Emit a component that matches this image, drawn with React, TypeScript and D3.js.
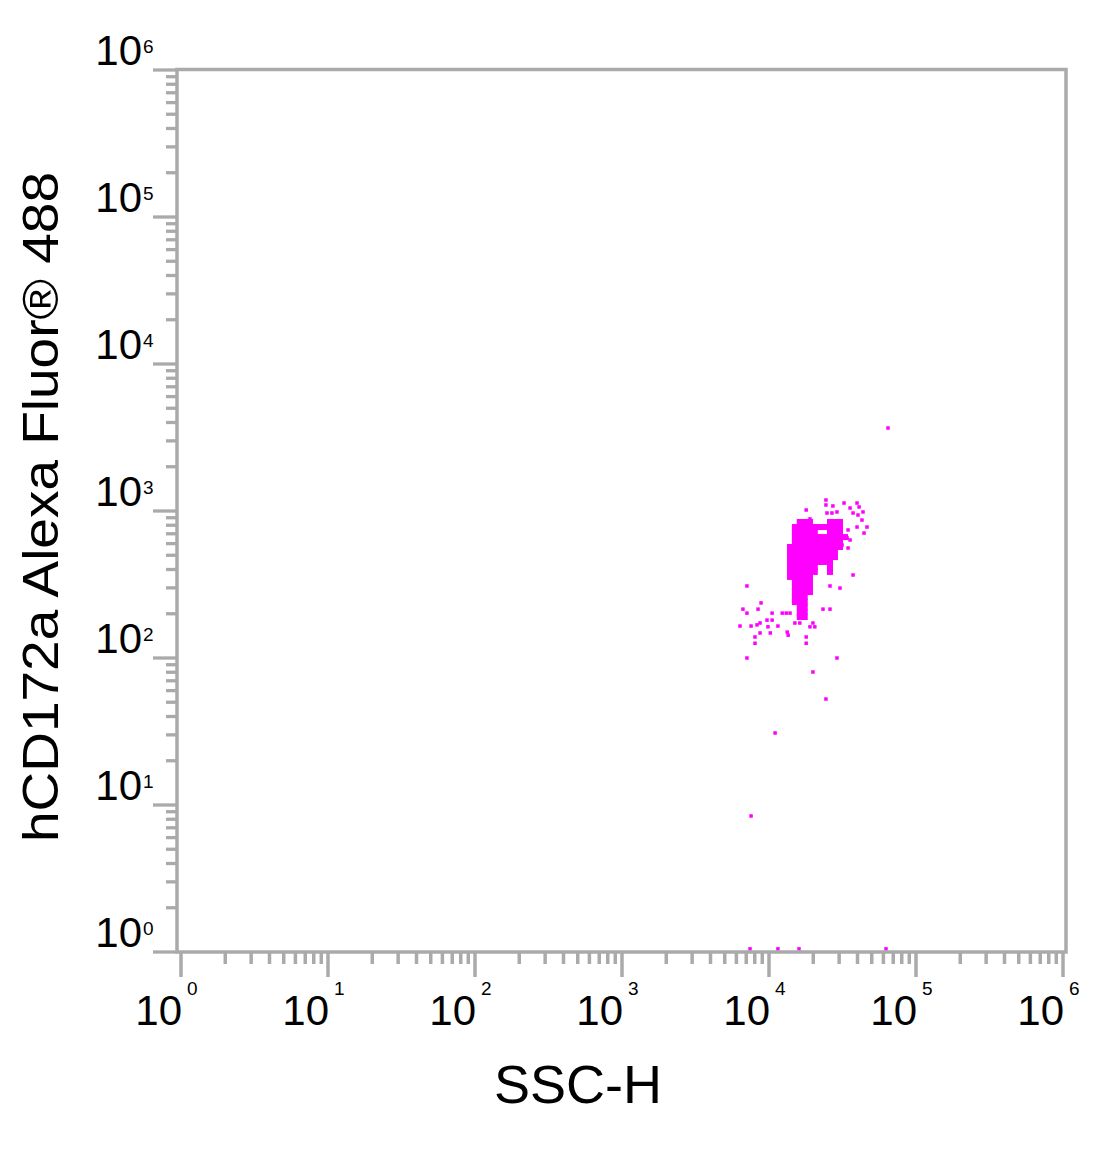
import React from "react";
import * as d3 from "d3";

// ---- data ----
const decadeExponents = [0, 1, 2, 3, 4, 5, 6];
const minorMultipliers = [2, 3, 4, 5, 6, 7, 8, 9];
const xAxisTitle = "SSC-H";
const yAxisTitle = "hCD172a Alexa Fluor® 488";

// dense core of the population: [FL value, SSC values in that row]
const coreRows: [number, number[]][] = [
  [842, [1.62e4, 1.75e4, 1.9e4, 2.6e4, 2.81e4, 3.04e4]],
  [778, [1.5e4, 1.62e4, 1.75e4, 1.9e4, 2.05e4, 2.22e4, 2.4e4, 2.6e4, 2.81e4, 3.04e4]],
  [720, [1.5e4, 1.62e4, 1.75e4, 1.9e4, 2.05e4, 2.6e4, 2.81e4, 3.04e4]],
  [665, [1.5e4, 1.62e4, 1.75e4, 1.9e4, 2.05e4, 2.22e4, 2.4e4, 2.6e4, 2.81e4, 3.04e4, 3.29e4]],
  [615, [1.5e4, 1.62e4, 1.75e4, 1.9e4, 2.05e4, 2.22e4, 2.4e4, 2.6e4, 2.81e4, 3.04e4]],
  [569, [1.39e4, 1.5e4, 1.62e4, 1.75e4, 1.9e4, 2.05e4, 2.22e4, 2.4e4, 2.6e4, 2.81e4, 3.04e4]],
  [526, [1.39e4, 1.5e4, 1.62e4, 1.75e4, 1.9e4, 2.05e4, 2.22e4, 2.4e4, 2.6e4, 2.81e4]],
  [486, [1.39e4, 1.5e4, 1.62e4, 1.75e4, 1.9e4, 2.05e4, 2.22e4, 2.4e4, 2.6e4, 2.81e4]],
  [450, [1.39e4, 1.5e4, 1.62e4, 1.75e4, 1.9e4, 2.05e4, 2.22e4, 2.4e4, 2.6e4]],
  [416, [1.39e4, 1.5e4, 1.62e4, 1.75e4, 1.9e4, 2.05e4, 2.6e4]],
  [385, [1.39e4, 1.5e4, 1.62e4, 1.75e4, 1.9e4, 2.05e4, 2.6e4]],
  [356, [1.39e4, 1.5e4, 1.62e4, 1.75e4, 1.9e4]],
  [329, [1.5e4, 1.62e4, 1.75e4, 1.9e4]],
  [304, [1.5e4, 1.62e4, 1.75e4, 1.9e4]],
  [281, [1.5e4, 1.62e4, 1.75e4, 1.9e4]],
  [260, [1.5e4, 1.62e4, 1.75e4]],
  [240, [1.5e4, 1.62e4, 1.75e4]],
  [222, [1.62e4, 1.75e4]],
  [206, [1.62e4, 1.75e4]],
  [190, [1.62e4, 1.75e4]],
];

// scattered events: [SSC, FL]
const sparseEvents: [number, number][] = [
  [2.44e4, 1188], [2.44e4, 1099], [2.72e4, 1082], [3.24e4, 1133], [3.97e4, 1133],
  [4.1e4, 1065], [1.79e4, 1016], [2.48e4, 969], [2.68e4, 969], [2.9e4, 985],
  [3.56e4, 1048], [3.73e4, 969], [4.03e4, 939], [4.36e4, 985], [4.29e4, 868],
  [4.64e4, 778], [3.97e4, 778], [4.43e4, 708], [3.45e4, 743], [3.4e4, 655],
  [3.56e4, 635], [3.45e4, 560], [3.14e4, 587], [1.9e4, 883], [3.73e4, 367],
  [2.6e4, 309], [3.04e4, 299], [7.08e3, 309], [8.83e3, 237], [6.65e3, 215],
  [7.08e3, 202], [8.42e3, 215], [1.23e4, 202], [1.31e4, 202], [1.39e4, 202],
  [2.33e4, 215], [2.6e4, 215], [1.05e4, 202], [9.69e3, 181], [1.05e4, 181],
  [8.69e3, 173], [8.29e3, 168], [6.35e3, 165], [7.55e3, 165], [1.15e4, 165],
  [9.84e3, 163], [1.5e4, 173], [1.62e4, 173], [1.9e4, 163], [2.05e4, 163],
  [1.99e4, 173], [8.69e3, 148], [1.02e4, 148], [1.33e4, 150], [1.35e4, 143],
  [8.03e3, 139], [8.03e3, 126], [1.79e4, 139], [1.79e4, 126], [7.08e3, 100],
  [2.9e4, 100], [1.99e4, 80.3], [2.44e4, 52.6], [1.1e4, 30.9], [7.55e3, 8.42],
  [6.45e4, 3670],
  [7.43e3, 1.05], [1.15e4, 1.05], [1.6e4, 1.05], [6.25e4, 1.05],
];

// ---- layout ----
const W = 1100;
const H = 1166;
const frame = { left: 177, top: 69.5, right: 1066, bottom: 952 };
const axisColor = "#aaaaaa";
const dotColor = "#ff00ff";
const font = "'Liberation Sans', Arial, Helvetica, sans-serif";

export default function App() {
  const x = d3.scaleLog().domain([1, 1e6]).range([181, 1063]);
  const y = d3.scaleLog().domain([1, 1e6]).range([952, 70]);

  const majors = decadeExponents.map((e) => Math.pow(10, e));
  const minors: number[] = [];
  decadeExponents.slice(0, -1).forEach((e) =>
    minorMultipliers.forEach((m) => minors.push(m * Math.pow(10, e)))
  );

  const corePoints: [number, number][] = [];
  coreRows.forEach(([fl, sscs]) => sscs.forEach((s) => corePoints.push([s, fl])));

  return (
    <svg
      width={W}
      height={H}
      style={{ position: "absolute", left: 0, top: 0, background: "#fff" }}
    >
      <rect x={0} y={0} width={W} height={H} fill="#fff" />
      {/* points */}
      <g fill={dotColor}>
        {corePoints.map(([sx, fy], i) => (
          <rect key={"c" + i} x={x(sx) - 3} y={y(fy) - 3} width={6} height={6} />
        ))}
        {sparseEvents.map(([sx, fy], i) => (
          <rect key={"s" + i} x={x(sx) - 1.75} y={y(fy) - 1.75} width={3.5} height={3.5} />
        ))}
      </g>
      {/* frame */}
      <rect
        x={frame.left}
        y={frame.top}
        width={frame.right - frame.left}
        height={frame.bottom - frame.top}
        fill="none"
        stroke={axisColor}
        strokeWidth={3.5}
      />
      {/* y ticks */}
      <g stroke={axisColor} strokeWidth={3.3}>
        {majors.map((v) => (
          <line key={"ym" + v} x1={frame.left} x2={153} y1={y(v)} y2={y(v)} />
        ))}
        {minors.map((v) => (
          <line key={"yn" + v} x1={frame.left} x2={166} y1={y(v)} y2={y(v)} />
        ))}
      </g>
      {/* x ticks */}
      <g stroke={axisColor} strokeWidth={3.5}>
        {majors.map((v) => (
          <line key={"xm" + v} x1={x(v)} x2={x(v)} y1={frame.bottom} y2={977} />
        ))}
        {minors.map((v) => (
          <line key={"xn" + v} x1={x(v)} x2={x(v)} y1={frame.bottom} y2={964} />
        ))}
      </g>
      {/* y tick labels */}
      <g fontFamily={font} fill="#000">
        {decadeExponents.map((e) => (
          <g key={"yl" + e}>
            <text x={142} y={y(Math.pow(10, e)) - 5} fontSize={42} textAnchor="end">
              10
            </text>
            <text x={143} y={y(Math.pow(10, e)) - 17} fontSize={19}>
              {e}
            </text>
          </g>
        ))}
      </g>
      {/* x tick labels */}
      <g fontFamily={font} fill="#000">
        {decadeExponents.map((e) => (
          <g key={"xl" + e}>
            <text x={x(Math.pow(10, e)) + 1} y={1025} fontSize={42} textAnchor="end">
              10
            </text>
            <text x={x(Math.pow(10, e)) + 6} y={995} fontSize={19}>
              {e}
            </text>
          </g>
        ))}
      </g>
      {/* axis titles */}
      <text
        x={578}
        y={1103}
        fontSize={54}
        fontFamily={font}
        textAnchor="middle"
        fill="#000"
      >
        {xAxisTitle}
      </text>
      <text
        transform="translate(58,507) rotate(-90)"
        fontSize={50}
        fontFamily={font}
        textAnchor="middle"
        textLength={670}
        lengthAdjust="spacingAndGlyphs"
        fill="#000"
      >
        {yAxisTitle}
      </text>
    </svg>
  );
}
